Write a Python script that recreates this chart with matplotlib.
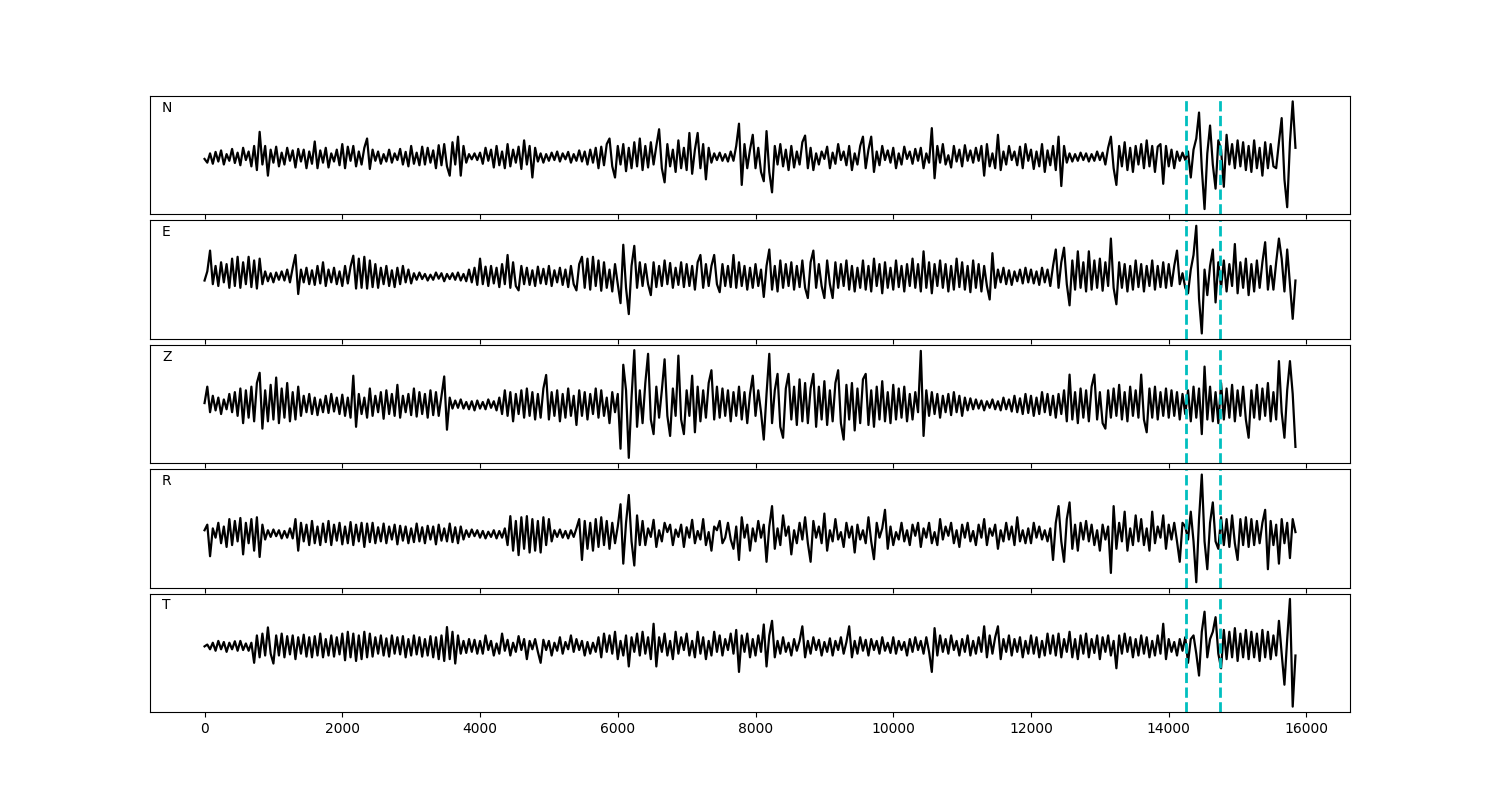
import matplotlib
matplotlib.use("Agg")
import matplotlib.pyplot as plt
import numpy as np

# sample spacing of the listed turning points
step = 40
picks = [14250, 14750]
names = ["N", "E", "Z", "R", "T"]

trace_n = [
    -5, -15, 10, -18, 14, -12, 18, -20, 8, -10, 22, -16, 12, -22, 25, -8, 15, -25, 30, -35,
    68, -20, 30, -50, 20, -15, 28, -25, 12, -20, 25, -10, 18, -28, 22, -12, 20, -30, 15, -18,
    42, -30, 18, -15, 25, -28, 10, -12, 20, -22, 35, -30, 28, -10, 30, -25, 15, -20, 25, 50,
    -32, 20, -10, 15, -18, 8, -12, 20, -15, 10, -8, 22, -20, 14, -25, 30, -18, 12, -22, 28,
    -20, 25, -15, 18, -30, 32, -22, 35, -25, -50, 40, -20, 55, -50, 30, -15, 8, -6, 10, -8,
    12, -18, 25, -10, 20, -28, 30, -22, 15, -30, 35, -25, 20, -15, 28, -32, 45, -20, 30, -55,
    25, -12, 10, -15, 8, -10, 12, -8, 15, -12, 10, -6, 14, -15, 8, -10, 18, -12, 15, -20,
    20, -15, 25, -30, 28, -22, 35, 50, -25, -55, 30, -20, 35, -38, 25, -30, 40, -25, 50, -35,
    30, -28, 40, -20, 30, 75, -30, -68, 35, -25, 20, -40, 45, -30, 25, -35, 65, -45, 20, 65,
    -30, 35, -60, 25, -15, 10, -8, 12, -10, 8, -12, 15, -10, 30, 90, -75, 35, -30, 20, 60,
    -30, 25, -40, -65, 70, -40, -95, 30, -20, 35, -25, 20, -35, 30, -28, 15, -20, 40, 58, -30,
    25, -35, 10, -20, 15, -5, 28, -30, 12, -18, 35, -8, 15, -22, 30, -35, 10, -20, 30, 55,
    -30, 20, 55, -40, 15, -22, 30, -8, 18, -15, 25, -30, 10, -20, 28, -5, 15, -18, 22, -10,
    25, -30, 10, -15, 78, -57, 30, -15, 35, -20, 5, -28, 30, -12, 20, -25, 32, -10, 18, -15,
    25, -10, 30, -50, 35, -25, 10, -30, 60, -35, 15, -20, 30, -8, 15, -22, 28, -30, 35, -10,
    20, -32, 15, -25, 35, -40, 18, -22, 30, -35, 55, -78, 30, -15, 10, -12, 8, -10, 12, -8,
    10, -12, 8, -10, 15, -8, 12, -20, 25, 55, -30, -75, 30, -25, 40, -35, 25, -40, 30, -20,
    35, -30, 45, -25, 30, -40, 28, 35, -72, 30, -25, 20, -30, 15, -10, 12, -8, 15, -55, 20,
    50, 120, -30, -140, 10, 85, -20, -85, 45, 20, -80, 60, -20, 35, -30, 45, -25, 40, -35, 30,
    -40, 45, -30, 25, -50, 40, -30, 35, -25, -30, 40, 105, -60, -135, 40, 150, 25,
]

trace_e = [
    -10, 15, 72, -20, 30, -25, 40, -15, 35, -30, 50, -25, 55, -30, 40, -20, 55, -28, 45, -32,
    50, -20, 15, -12, 10, -15, 12, -8, 15, -10, 20, -15, 25, 60, -47, 20, -15, 25, -20, 18,
    -22, 30, -18, 40, -25, 20, -15, 25, -20, 15, -25, 30, -18, 28, 58, -32, 50, -30, 55, -32,
    45, -28, 35, -30, 25, -20, 30, -25, 18, -28, 25, -20, 30, -15, 20, -18, 10, -8, 12, -6,
    8, -10, 6, -8, 12, -5, 10, -12, 8, -6, 10, -8, 12, -10, 8, -12, 20, -15, 25, -22,
    50, -20, 28, -25, 30, -18, 25, -28, 35, -20, 60, -30, 40, -25, -37, 30, -20, 25, -22, 18,
    -25, 28, -18, 22, -20, 30, -25, 18, -15, 25, -22, 20, -28, 30, -20, -37, 35, 55, -30, 50,
    -35, 55, -25, 45, -38, 40, -30, 20, -40, 35, -20, -72, 88, -30, -102, 30, 85, -30, 40, -25,
    35, -20, -50, 40, -28, 30, -25, 45, -20, 38, -30, 25, -22, 40, -28, 35, -25, 30, -35, 40,
    60, -30, 35, -25, 30, 60, -20, -42, 35, -25, 30, -28, 60, -30, 40, -25, 30, -35, 25, -30,
    35, -25, 20, -55, 30, 75, -35, 30, -40, 45, -30, 35, -25, 40, -35, 30, -28, 45, -30, -58,
    40, 72, -30, 35, -25, -58, 45, -20, -58, 40, -30, 35, -25, 45, -35, 30, -40, 25, -30, 45,
    -35, 30, -40, 50, -25, 35, -45, 40, -30, 25, -35, 45, -28, 30, -40, 35, -25, 50, -30, 35,
    -40, 70, -30, 40, -45, 35, -25, 45, -30, 35, -40, 30, -35, 50, -28, 40, -35, 30, -42, 45,
    -30, 35, -40, 30, -25, -62, 65, -30, 20, -15, 25, -20, 18, -22, 15, -12, 20, -18, 25, -15,
    20, -18, 15, -22, 25, -15, 20, -25, 30, 75, -30, 40, 80, -20, -78, 45, -35, 70, -30, 40,
    -40, 70, -35, 45, -30, 50, -38, 40, -25, 105, -30, -75, 40, -30, 35, -40, 30, -35, 45, -28,
    35, -40, 30, -25, 45, -35, 30, -28, 40, -30, 35, -25, 30, 72, -20, 10, -30, -45, 20, 60,
    140, -60, -155, 20, -50, 30, 75, -70, 40, -30, 45, -40, 35, -25, 90, -45, 40, -30, 50, -50,
    35, -40, 45, -30, 40, 95, -35, 30, -35, 40, 105, 50, -40, 75, -20, -115, -10,
]

trace_z = [
    5, 50, -20, 25, -15, 20, -25, 15, -12, 30, -20, 35, -30, 45, -50, 40, -35, 50, -45, 60,
    88, -65, 40, -45, 55, -40, 75, -50, 45, -35, 60, -45, 35, -40, 50, -30, 25, -20, 30, -25,
    20, -28, 15, -20, 25, -22, 30, -18, 20, -25, 28, -30, 20, -35, 80, -60, 30, -25, 20, -35,
    45, -30, 25, -20, 35, -38, 40, -25, 30, -30, 55, -35, 25, -20, 30, -28, 45, -32, 35, -25,
    30, -35, 40, -28, 35, -30, 25, 78, -68, 20, -10, 12, -8, 15, -10, 8, -12, 10, -15, 12,
    -10, 8, -12, 15, -8, 10, -15, 20, -25, 40, -30, 35, -45, 30, -25, 40, -35, 45, -30, 35,
    -40, 30, -35, 45, 82, -40, 35, -30, 40, -45, 30, -35, 45, -30, 25, -55, 40, -30, 35, -40,
    30, -25, 45, -35, 40, -30, 20, -50, 35, -20, 30, -120, 110, 40, -145, 20, 150, -60, 40, -50,
    60, 140, -40, -80, 50, -35, 40, 125, -30, -85, 45, -30, 135, -40, -80, 40, -30, 80, -75, 50,
    -45, 40, -35, 60, 95, -40, 50, -35, 45, -30, 40, -45, 35, -30, 50, -40, 35, -50, 30, 80,
    -30, 40, -20, -95, 30, 140, -50, 40, 85, -60, -90, 45, 85, -40, 50, -55, 70, -45, 60, -50,
    45, 85, -60, 50, -40, 65, -55, 40, -45, 60, 95, -50, -95, 55, -40, 60, -70, 45, -50, 70,
    85, -55, 40, -60, 50, -40, 65, -45, 35, -50, 55, -40, 45, -35, 50, -45, 30, -40, 35, -20,
    148, -85, 40, -30, 35, -25, 30, -35, 25, -20, 30, -28, 35, -20, 25, -30, 20, -15, 18, -12,
    15, -10, 12, -15, 10, -8, 15, -12, 10, -15, 20, -12, 15, -18, 25, -20, 18, -25, 30, -22,
    25, -30, 20, -25, 35, -20, 30, -28, 25, -35, 30, -25, 40, -45, 83, -40, 35, -50, 45, -35,
    40, -45, 50, 83, -40, 35, -50, -65, 40, -35, 45, -30, 55, -40, 35, -45, 50, -30, 40, -35,
    83, -40, -75, 45, -35, 50, -40, 35, -30, 45, -35, 40, -30, 35, -40, 30, -25, 40, -45, 50,
    -35, 45, -80, 105, -40, 50, -45, 35, -50, 60, -40, 45, -35, 55, -45, 40, -30, 50, -40, -90,
    40, -35, 55, -40, 45, -30, 60, -45, 35, -40, 120, -20, -90, 40, 120, 30, -115,
]

trace_r = [
    10, 25, -60, 15, -10, 30, -25, 20, -35, 40, -30, 35, -20, 43, -55, 30, -25, 40, -45, 45,
    -62, 25, -15, 10, -8, 12, -6, 10, -12, 8, -10, 15, -12, 40, -45, 30, -20, 25, -30, 35,
    -25, 20, -30, 28, -22, 35, -30, 25, -18, 30, -28, 20, -25, 32, -30, 25, -20, 30, -35, 28,
    -22, 30, -25, 18, -20, 28, -25, 20, -15, 25, -28, 22, -18, 20, -25, 15, -22, 28, -20, 18,
    -25, 22, -15, 20, -28, 25, -18, 15, -20, 28, -22, 18, -25, 20, -15, 10, -8, 12, -6, 10,
    -10, 8, -12, 6, -8, 10, -12, 8, -10, 15, -30, 48, -45, 35, -57, 45, -40, 48, -50, 40,
    -45, 35, -50, 45, -30, 40, -20, 10, -8, 12, -10, 8, -12, 10, -8, 15, 40, -70, 35, -40,
    30, -45, 40, -35, 45, -30, 35, -40, 30, -25, 20, 80, -80, 30, 105, -20, -85, 50, -30, 35,
    -30, 15, -8, 38, -35, 10, -20, 30, 5, 25, -30, 12, -8, 25, -35, 18, -10, 38, -25, 8,
    -15, 40, -30, 5, -45, 20, 10, 35, -25, -10, 30, -15, -40, 20, -70, 45, -10, 25, -45, 15,
    -20, 35, -10, 25, -75, 20, 75, -40, 15, -30, 50, -5, 20, -55, 10, -25, 30, -15, 45, -25,
    -75, 35, -10, 20, -25, 55, -45, 10, -20, 40, -15, 5, -35, 30, -10, 20, -50, 25, -15, 10,
    -25, 45, -20, -68, 30, -10, 15, 65, -40, 20, -30, 5, -15, 30, -20, 10, -30, 25, -5, 30,
    -35, 15, -10, 30, -25, 5, -30, 40, -15, 20, -5, 30, -25, 10, -35, 25, -10, 30, -20, 8,
    -30, 25, -10, 40, -30, 15, -5, 25, -40, 10, -20, 30, -15, 20, -30, 45, -20, 10, -25, 15,
    -25, 30, -10, 20, -15, 10, -20, 15, -70, 30, 75, -20, -75, 40, 85, -40, 25, -45, 30, -15,
    35, -20, 25, -30, 10, -45, 25, -15, 20, -105, 75, -40, 30, -20, 60, -45, 15, -30, 50, -20,
    40, -30, 15, -45, 60, -25, 20, -10, 50, -40, 25, -15, 30, -20, -75, 30, 20, -15, 60, -20,
    -130, 40, 160, -20, -95, 30, 85, -20, -40, 45, -30, 40, -35, 50, -25, -70, 40, -30, 45, -35,
    40, -30, 35, -25, 30, 65, -95, 35, -30, 25, -80, 40, -25, 30, -65, 40, 5,
]

trace_t = [
    0, 5, -8, 10, -12, 15, -8, 12, -15, 10, -8, 14, -12, 15, -10, 8, -12, 10, -45, 30,
    -30, 35, -25, 52, -20, -47, 30, -25, 35, -30, 28, -22, 30, -35, 25, -20, 32, -28, 25, -30,
    28, -25, 35, -30, 20, -25, 30, -28, 25, -22, 35, -38, 40, -30, 35, -40, 30, -35, 40, -30,
    35, -28, 25, -20, 30, -25, 22, -28, 30, -20, 25, -22, 28, -30, 20, -25, 30, -22, 25, -28,
    20, -25, 28, -30, 25, -35, 30, -40, 53, -35, 40, -47, 30, -20, 15, -18, 20, -15, 18, -20,
    15, -20, 30, -10, 15, -25, 8, -20, 35, -12, 18, -25, 10, -15, 28, -10, 20, -35, 15, -8,
    20, -15, -45, 18, -10, 15, -25, 10, -12, 25, -20, 12, -8, 30, -15, 20, -10, 15, -25, 12,
    -20, 10, -15, 25, -30, 35, -15, 30, -20, 40, -35, 15, -25, 30, -55, 25, -15, 35, -25, 40,
    -20, 25, -35, 62, -55, 25, -15, 35, -25, 15, -35, 40, -20, 25, -10, 35, -25, 15, -30, 40,
    -20, 25, -35, 15, -25, 40, -15, 30, -25, 20, -10, 35, -20, 45, -70, 30, -15, 35, -30, 20,
    -25, 30, -15, 60, -55, 30, 70, -30, 15, -20, 25, -15, 10, -25, 20, -12, 15, 55, -30, 15,
    -20, 25, -10, 18, -25, 12, -15, 22, -25, 15, -10, 25, -20, 12, 55, -30, 15, -20, 25, -12,
    18, -25, 20, -10, 15, -20, 25, -12, 10, -18, 25, -20, 15, -10, 12, -25, 20, -15, 25, -10,
    15, -20, 25, -15, -70, 50, -25, 30, -15, 20, -20, 30, -10, 15, -25, 20, -15, 30, -25, 15,
    -20, 25, -15, 55, -30, 30, -20, 25, 55, -35, 20, -15, 30, -25, 20, -15, 25, -30, 15, -20,
    30, -20, 25, -30, 15, -25, 35, -20, 30, -25, 35, -30, 20, -15, 40, -30, 20, -35, 30, -20,
    35, -30, 20, -18, 30, -35, 25, -15, 30, -25, 15, -60, 30, -20, 35, -15, 25, -30, 20, -25,
    30, -20, 25, -30, 15, -25, 30, -20, 62, -35, 20, -15, 12, -25, 20, -12, 25, -45, 20, 30,
    -20, -80, 40, 95, -30, 20, 40, 80, -20, -60, 45, -35, 40, -30, 50, -40, 35, -30, 45, -35,
    40, -30, 35, -40, 45, -30, 40, -35, 30, -25, 70, -20, -105, 20, 130, -165, -25,
]

traces = [trace_n, trace_e, trace_z, trace_r, trace_t]

fig, axes = plt.subplots(5, 1, sharex=True, figsize=(15, 8))
fig.subplots_adjust(left=0.1, right=0.9, hspace=0.05)

for ax, name, tr in zip(axes, names, traces):
    tr = np.array(tr, dtype=float)
    x = np.arange(len(tr)) * step
    ax.plot(x, tr, "k-", linewidth=1.6)
    for p in picks:
        ax.axvline(p, color="c", linestyle="--", linewidth=2)
    ax.set_yticks([])
    ax.text(0.01, 0.9, name, transform=ax.transAxes, va="center", ha="left")

fig.savefig("out.png", dpi=100)
